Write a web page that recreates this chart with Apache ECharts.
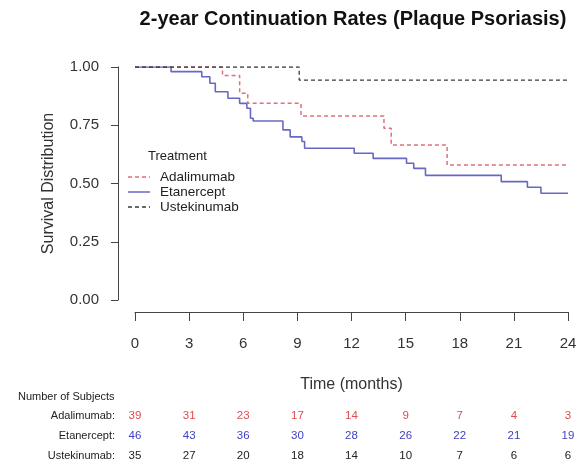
<!DOCTYPE html>
<html>
<head>
<meta charset="utf-8">
<script src="https://cdn.jsdelivr.net/npm/echarts@6/dist/echarts.min.js"></script>
<style>html,body{margin:0;padding:0;background:#fff;}#c{width:581px;height:466px;}</style>
</head>
<body>
<div id="c"></div>
<script>
// ---- data ----
var seriesNames = ['Adalimumab', 'Etanercept', 'Ustekinumab'];
var adalimumab = [[0,1],[4.85,0.964],[5.8,0.887],[6.25,0.844],[9.2,0.79],[13.8,0.737],[14.2,0.665],[17.3,0.579],[24,0.579]];
var etanercept = [[0,1],[2.0,0.98],[3.7,0.958],[4.15,0.93],[4.45,0.894],[5.15,0.866],[5.8,0.844],[6.2,0.823],[6.4,0.78],[6.55,0.768],[8.2,0.73],[8.6,0.70],[9.25,0.68],[9.4,0.651],[12.15,0.63],[13.2,0.608],[15.05,0.587],[15.45,0.565],[16.1,0.535],[20.3,0.508],[21.75,0.484],[22.5,0.458],[24,0.458]];
var ustekinumab = [[0,1],[9.1,0.944],[24,0.944]];
var riskTimes = [0,3,6,9,12,15,18,21,24];
var riskAdalimumab = [39,31,23,17,14,9,7,4,3];
var riskEtanercept = [46,43,36,30,28,26,22,21,19];
var riskUstekinumab = [35,27,20,18,14,10,7,6,6];

var lineColors = ['#e0707a', '#6868c4', '#3a3a3a'];
var textColors = ['#e04a50', '#4040c0', '#222'];
var FONT = '"Liberation Sans", Arial, sans-serif';

var chart = echarts.init(document.getElementById('c'), null, {renderer: 'canvas'});

chart.setOption({
  animation: false,
  backgroundColor: '#fff',
  title: {
    text: '2-year Continuation Rates (Plaque Psoriasis)',
    left: 348, top: 4, textAlign: 'center',
    textStyle: {fontFamily: FONT, fontSize: 20, fontWeight: 'bold', color: '#111'}
  },
  grid: {left: 135, right: 13, top: 67, bottom: 166},
  xAxis: {
    type: 'value', min: 0, max: 24, interval: 3, offset: 12,
    name: 'Time (months)', nameLocation: 'middle', nameGap: 65, nameMoveOverlap: false,
    nameTextStyle: {fontFamily: FONT, fontSize: 16, color: '#333'},
    axisLine: {show: true, onZero: false, lineStyle: {color: '#444', width: 1}},
    axisTick: {show: true, length: 9, lineStyle: {color: '#444'}},
    axisLabel: {margin: 24, fontFamily: FONT, fontSize: 15, color: '#333'},
    splitLine: {show: false}
  },
  yAxis: {
    type: 'value', min: 0, max: 1, interval: 0.25, offset: 17,
    name: 'Survival Distribution', nameLocation: 'middle', nameGap: 61, nameRotate: 90, nameMoveOverlap: false,
    nameTextStyle: {fontFamily: FONT, fontSize: 16, color: '#333'},
    axisLine: {show: true, onZero: false, lineStyle: {color: '#444', width: 1}},
    axisTick: {show: true, length: 7, lineStyle: {color: '#444'}},
    axisLabel: {margin: 19, fontFamily: FONT, fontSize: 15, color: '#333',
      formatter: function (v) { return v.toFixed(2); }},
    splitLine: {show: false}
  },
  series: [
    {name: seriesNames[0], type: 'line', step: 'end', data: adalimumab, symbol: 'none',
     lineStyle: {color: lineColors[0], width: 1.5, type: [4, 3]}},
    {name: seriesNames[1], type: 'line', step: 'end', data: etanercept, symbol: 'none',
     lineStyle: {color: lineColors[1], width: 1.6, type: 'solid'}},
    {name: seriesNames[2], type: 'line', step: 'end', data: ustekinumab, symbol: 'none',
     lineStyle: {color: lineColors[2], width: 1.3, type: [4, 3]}}
  ]
});

// legend and risk table drawn as graphics, positioned with the chart's scales
var g = [];
g.push({type: 'text', left: 148, top: 150, style: {text: 'Treatment', fontFamily: FONT, fontSize: 13, fill: '#222'}});
var legendY = [177, 192, 207];
var dashes = [[4, 3], null, [4, 3]];
for (var i = 0; i < 3; i++) {
  g.push({type: 'line', shape: {x1: 128, y1: legendY[i], x2: 150, y2: legendY[i]},
    style: {stroke: lineColors[i], lineWidth: 1.5, lineDash: dashes[i]}});
  g.push({type: 'text', x: 160, y: legendY[i], style: {text: seriesNames[i], fontFamily: FONT, fontSize: 13.5, fill: '#222', textVerticalAlign: 'middle'}});
}
g.push({type: 'text', x: 18, y: 397, style: {text: 'Number of Subjects', fontFamily: FONT, fontSize: 11, fill: '#222', textVerticalAlign: 'middle'}});
var rowY = [416, 436, 456];
var rows = [riskAdalimumab, riskEtanercept, riskUstekinumab];
for (var r = 0; r < 3; r++) {
  g.push({type: 'text', x: 115, y: rowY[r], style: {text: seriesNames[r] + ':', fontFamily: FONT, fontSize: 11, fill: '#222', textAlign: 'right', textVerticalAlign: 'middle'}});
  for (var k = 0; k < riskTimes.length; k++) {
    var px = chart.convertToPixel({xAxisIndex: 0}, riskTimes[k]);
    g.push({type: 'text', x: px, y: rowY[r], style: {text: String(rows[r][k]), fontFamily: FONT, fontSize: 11.5, fill: textColors[r], textAlign: 'center', textVerticalAlign: 'middle'}});
  }
}
chart.setOption({graphic: g});
</script>
</body>
</html>
